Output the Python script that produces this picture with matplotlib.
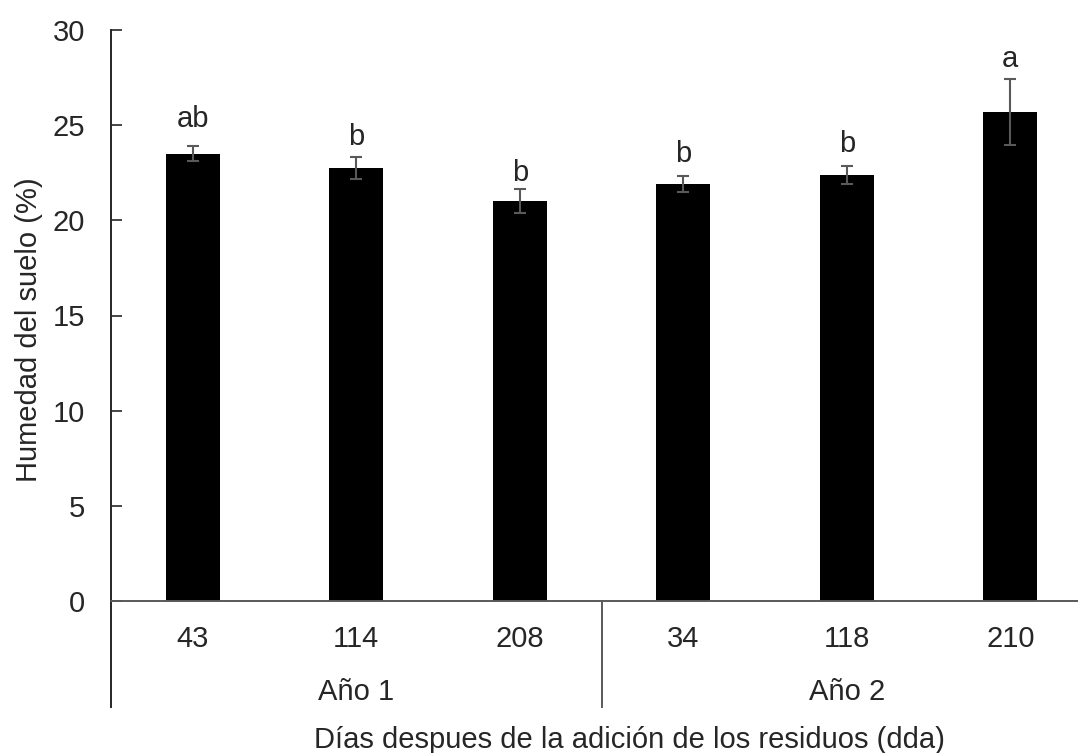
import matplotlib
matplotlib.use("Agg")
import matplotlib.pyplot as plt

# soil moisture (%) by days after residue addition
dias = ["43", "114", "208", "34", "118", "210"]
anios = ["Año 1", "Año 2"]
humedad = [23.5, 22.75, 21.0, 21.9, 22.4, 25.7]
error = [0.38, 0.58, 0.63, 0.43, 0.47, 1.75]
letras = ["ab", "b", "b", "b", "b", "a"]
letra_y = [25.3, 24.4, 22.5, 23.5, 24.0, 28.5]

plt.rcParams["font.family"] = ["Liberation Sans", "DejaVu Sans"]
TXT = "#262626"
FS = 21

W, H = 1078, 753
fig = plt.figure(figsize=(W / 100, H / 100), dpi=100)
# plot area in pixels: x 111..1092 (cropped on the right), y 30..601
ax = fig.add_axes([111 / W, (H - 601) / H, (1092 - 111) / W, (601 - 30) / H])

x = list(range(len(dias)))
ax.bar(x, humedad, width=0.33, color="black", zorder=2)
ax.errorbar(x, humedad, yerr=error, fmt="none", ecolor="#595959",
            elinewidth=1.5, capsize=4, capthick=1.5, zorder=3)
for xi, l, ly in zip(x, letras, letra_y):
    ax.text(xi, ly, l, ha="center", va="center", fontsize=FS, color=TXT)

ax.set_xlim(-0.5, 5.5)
ax.set_ylim(0, 30)
ax.set_yticks(range(0, 31, 5))
ax.tick_params(axis="y", direction="in", length=8, width=1.2, pad=18.5,
               labelsize=FS, labelcolor=TXT, color="#262626")
ax.set_xticks(x)
ax.set_xticklabels(dias)
ax.tick_params(axis="x", length=0, pad=17, labelsize=FS, labelcolor=TXT)

for s in ("top", "right"):
    ax.spines[s].set_visible(False)
ax.spines["left"].set_color("#262626")
ax.spines["left"].set_linewidth(1.4)
ax.spines["bottom"].set_color("#595959")
ax.spines["bottom"].set_linewidth(1.4)

# group separators below the axis (multi-level category axis)
depth = -(707 - 601) / (601 - 30)
trans = ax.get_xaxis_transform()
ax.plot([-0.5, -0.5], [0, depth], transform=trans, color="#262626",
        lw=1.4, clip_on=False)
ax.plot([2.5, 2.5], [0, depth], transform=trans, color="#595959",
        lw=1.4, clip_on=False)
grp_y = -(692 - 601) / (601 - 30)
ax.text(1, grp_y, anios[0], transform=trans, ha="center", va="center",
        fontsize=FS, color=TXT)
ax.text(4, grp_y, anios[1], transform=trans, ha="center", va="center",
        fontsize=FS, color=TXT)

ax.set_ylabel("Humedad del suelo (%)", fontsize=FS, color=TXT)
ax.yaxis.set_label_coords((43 - 111) / (1092 - 111), 0.475)
fig.text(629 / W, 1 - 740 / H, "Días despues de la adición de los residuos (dda)",
         ha="center", va="center", fontsize=FS, color=TXT)

fig.savefig("out.png", dpi=100)
